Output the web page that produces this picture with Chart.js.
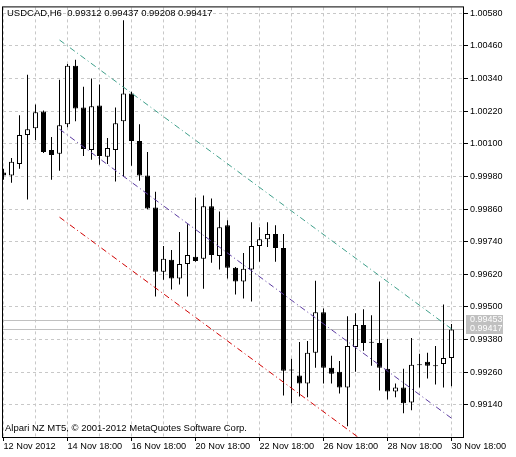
<!DOCTYPE html>
<html>
<head>
<meta charset="utf-8">
<script src="https://cdn.jsdelivr.net/npm/chart.js@4.4.1/dist/chart.umd.min.js"></script>
<style>
    html, body { margin: 0; padding: 0; background: #fff; }
    canvas { display: block; }
</style>
</head>
<body>
<canvas id="graficoVelas" width="516" height="457"></canvas>
<script>
const titulo = 'USDCAD,H6  0.99312 0.99437 0.99208 0.99417';
const copyright = 'Alpari NZ MT5, © 2001-2012 MetaQuotes Software Corp.';

// velas H6, una por indice
const aperturas = [
    0.99994, 0.99983, 1.00026, 1.00132, 1.00157, 1.00219, 1.00077, 1.00063, 1.00172, 1.00387,
    1.00234, 1.00077, 1.00241, 1.00052, 1.00077, 1.00183, 1.00285, 1.00110, 0.99983, 0.99866,
    0.99629, 0.99673, 0.99604, 0.99658, 0.99684, 0.99677, 0.99870, 0.99687, 0.99800, 0.99644,
    0.99593, 0.99637, 0.99724, 0.99749, 0.99768, 0.99717, 0.99269, 0.99247, 0.99218, 0.99331,
    0.99480, 0.99276, 0.99261, 0.99203, 0.99352, 0.99433, 0.99371, 0.99367, 0.99272, 0.99188,
    0.99203, 0.99148, 0.99287, 0.99298, 0.99283, 0.99290, 0.99312
];
const maximos = [
    1.00008, 1.00048, 1.00205, 1.00354, 1.00245, 1.00223, 1.00125, 1.00336, 1.00394, 1.00409,
    1.00310, 1.00340, 1.00318, 1.00121, 1.00234, 1.00555, 1.00292, 1.00172, 1.00070, 0.99924,
    0.99724, 0.99709, 0.99775, 0.99804, 0.99902, 0.99910, 0.99899, 0.99851, 0.99819, 0.99647,
    0.99698, 0.99811, 0.99793, 0.99811, 0.99800, 0.99768, 0.99309, 0.99371, 0.99374, 0.99596,
    0.99494, 0.99320, 0.99301, 0.99465, 0.99476, 0.99491, 0.99469, 0.99593, 0.99382, 0.99218,
    0.99272, 0.99385, 0.99327, 0.99331, 0.99356, 0.99509, 0.99437
];
const minimos = [
    0.99968, 0.99957, 1.00008, 0.99895, 1.00114, 1.00066, 0.99968, 1.00001, 1.00161, 1.00183,
    1.00055, 1.00041, 1.00023, 1.00026, 0.99961, 0.99979, 1.00019, 0.99964, 0.99859, 0.99538,
    0.99600, 0.99564, 0.99582, 0.99538, 0.99666, 0.99567, 0.99662, 0.99637, 0.99604, 0.99545,
    0.99531, 0.99520, 0.99666, 0.99720, 0.99666, 0.99174, 0.99145, 0.99170, 0.99167, 0.99276,
    0.99218, 0.99218, 0.99181, 0.99061, 0.99261, 0.99338, 0.99283, 0.99192, 0.99159, 0.99167,
    0.99108, 0.99119, 0.99203, 0.99236, 0.99214, 0.99203, 0.99208
];
const cierres = [
    0.99983, 1.00034, 1.00132, 1.00154, 1.00216, 1.00070, 1.00059, 1.00168, 1.00387, 1.00230,
    1.00081, 1.00238, 1.00055, 1.00085, 1.00176, 1.00285, 1.00110, 0.99983, 0.99862, 0.99629,
    0.99677, 0.99604, 0.99658, 0.99691, 0.99669, 0.99870, 0.99691, 0.99793, 0.99644, 0.99593,
    0.99640, 0.99724, 0.99749, 0.99768, 0.99717, 0.99265, 0.99266, 0.99218, 0.99331, 0.99480,
    0.99276, 0.99254, 0.99203, 0.99356, 0.99433, 0.99367, 0.99368, 0.99276, 0.99188, 0.99203,
    0.99145, 0.99287, 0.99285, 0.99283, 0.99281, 0.99312, 0.99417
];

const fechas = ['12 Nov 2012', '14 Nov 18:00', '16 Nov 18:00', '20 Nov 18:00',
                '22 Nov 18:00', '26 Nov 18:00', '28 Nov 18:00', '30 Nov 18:00'];
const pasoFechas = 8;
const pasoRejilla = 4;
const ticksPrecio = [0.99140, 0.99260, 0.99380, 0.99500, 0.99620, 0.99740, 0.99860,
                     0.99980, 1.00100, 1.00220, 1.00340, 1.00460, 1.00580];
const lineasPrecio = [0.99453, 0.99417];

// canal: [indice, precio] al inicio y al final
const canalSuperior = [[7, 1.00482], [56, 0.99419]];
const canalMedio = [[7, 1.00154], [56, 0.99090]];
const canalInferior = [[7, 0.99830], [56, 0.98767]];

const fuente = '9.5px "Liberation Sans"';

const marcoMT = {
    id: 'marcoMT',
    beforeDatasetsDraw(chart) {
        const { ctx, chartArea: a, scales: { y } } = chart;
        ctx.save();
        ctx.strokeStyle = '#c0c0c0';
        ctx.lineWidth = 1;
        lineasPrecio.forEach(p => {
            const py = Math.round(y.getPixelForValue(p)) + 0.5;
            ctx.beginPath();
            ctx.moveTo(a.left, py);
            ctx.lineTo(a.right, py);
            ctx.stroke();
        });
        ctx.restore();
    },
    afterDraw(chart) {
        const { ctx, chartArea: a, scales: { y } } = chart;
        ctx.save();
        ctx.strokeStyle = '#000';
        ctx.lineWidth = 1;
        ctx.strokeRect(a.left - 0.5, a.top - 0.5, a.right - a.left + 1, a.bottom - a.top + 1);
        ctx.font = fuente;
        ctx.textBaseline = 'middle';
        ctx.fillStyle = '#000';
        ctx.fillText(titulo, a.left + 4, a.top + 6);
        ctx.fillText(copyright, a.left + 2, a.bottom - 9);
        ctx.font = '9px "Liberation Sans"';
        lineasPrecio.forEach(p => {
            const py = Math.round(y.getPixelForValue(p));
            ctx.fillStyle = '#c0c0c0';
            ctx.fillRect(a.right + 3, py - 5, 37, 10);
            ctx.fillStyle = '#fff';
            ctx.fillText(p.toFixed(5), a.right + 7, py);
        });
        ctx.restore();
    }
};

function lineaCanal(puntos, color) {
    return {
        type: 'line',
        data: puntos.map(p => ({ x: p[0], y: p[1] })),
        borderColor: color,
        borderWidth: 1,
        borderDash: [6, 3, 1, 3],
        pointRadius: 0,
        fill: false,
        order: 0
    };
}

function cargarGraficoVelas() {
    const mechas = aperturas.map((o, i) => ({ x: i, y: [minimos[i], maximos[i]] }));
    const cuerpos = aperturas.map((o, i) => ({ x: i, y: [o, cierres[i]] }));
    const colores = aperturas.map((o, i) => cierres[i] >= o ? '#ffffff' : '#000000');

    Chart.defaults.font.family = 'Liberation Sans';
    Chart.defaults.font.size = 9;
    Chart.defaults.color = '#000';

    const ctx = document.getElementById('graficoVelas').getContext('2d');

    window.myChart = new Chart(ctx, {
        type: 'bar',
        data: {
            datasets: [
                {
                    data: mechas,
                    backgroundColor: '#000',
                    borderWidth: 0,
                    barThickness: 1,
                    grouped: false,
                    inflateAmount: 0,
                    order: 2
                },
                {
                    data: cuerpos,
                    backgroundColor: colores,
                    borderColor: '#000',
                    borderWidth: 1,
                    borderSkipped: false,
                    barThickness: 5,
                    minBarLength: 1,
                    grouped: false,
                    inflateAmount: 0,
                    order: 1
                },
                lineaCanal(canalSuperior, '#3f9f8a'),
                lineaCanal(canalMedio, '#5b3aa0'),
                lineaCanal(canalInferior, '#d00000')
            ]
        },
        options: {
            responsive: false,
            animation: false,
            devicePixelRatio: 1,
            layout: { padding: { left: 3, top: 3, right: 0, bottom: 0 } },
            plugins: { legend: { display: false }, tooltip: { enabled: false } },
            scales: {
                x: {
                    type: 'linear',
                    position: 'bottom',
                    min: -0.0625,
                    max: 57.4375,
                    offset: false,
                    afterBuildTicks: s => {
                        const t = [];
                        for (let i = 0; i < aperturas.length; i += pasoRejilla) t.push({ value: i });
                        s.ticks = t;
                    },
                    afterFit: s => { s.height = 20; },
                    ticks: {
                        autoSkip: false,
                        maxRotation: 0,
                        align: 'start',
                        padding: 0,
                        font: { size: 9.2 },
                        callback: v => v % pasoFechas === 0 ? fechas[v / pasoFechas] : ''
                    },
                    grid: {
                        offset: false,
                        color: '#c8c8c8',
                        lineWidth: 1,
                        tickLength: 4,
                        tickBorderDash: [],
                        tickColor: c => (c.tick && c.tick.value % pasoFechas === 0) ? '#000' : 'rgba(0,0,0,0)'
                    },
                    border: { display: false, dash: [3, 3] }
                },
                y: {
                    type: 'linear',
                    position: 'right',
                    min: 0.99021,
                    max: 1.00602,
                    afterBuildTicks: s => { s.ticks = ticksPrecio.map(v => ({ value: v })); },
                    afterFit: s => { s.width = 53; },
                    ticks: {
                        padding: 2,
                        font: { size: 9 },
                        callback: v => Number(v).toFixed(5)
                    },
                    grid: {
                        color: '#c8c8c8',
                        lineWidth: 1,
                        tickLength: 5,
                        tickBorderDash: [],
                        tickColor: '#000'
                    },
                    border: { display: false, dash: [3, 3] }
                }
            }
        },
        plugins: [marcoMT]
    });
}

window.onload = function() {
    cargarGraficoVelas();
};
</script>
</body>
</html>
